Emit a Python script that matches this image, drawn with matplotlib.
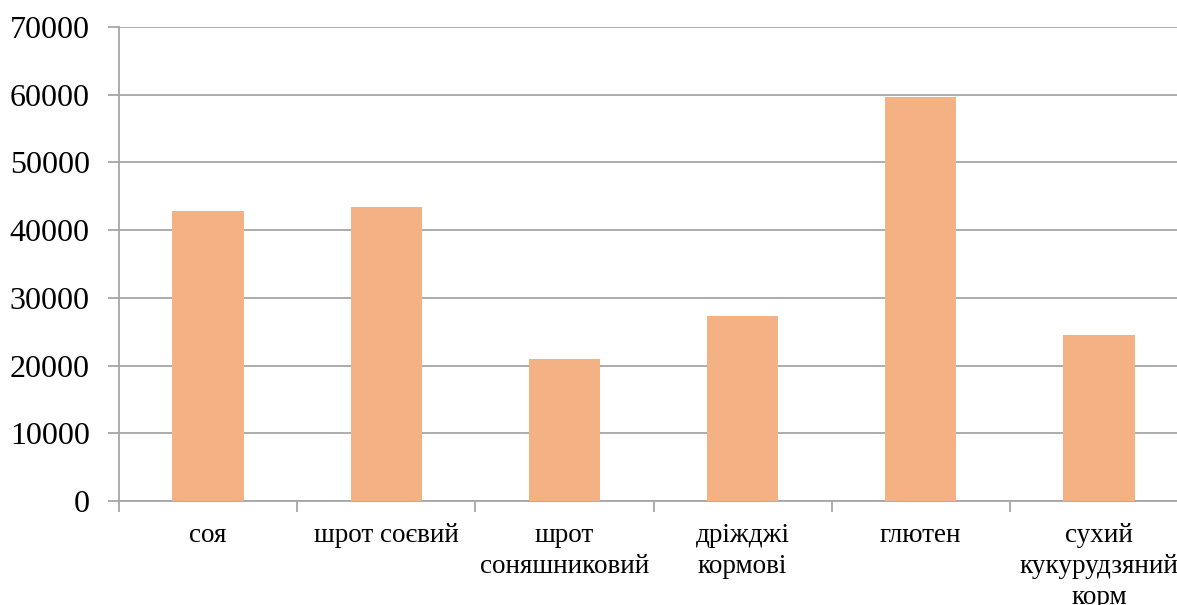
import matplotlib.pyplot as plt
import numpy as np

# categories and values
categories = ["соя", "шрот соєвий", "шрот\nсоняшниковий", "дріжджі\nкормові",
              "глютен", "сухий\nкукурудзяний\nкорм"]
values = [42900, 43450, 21000, 27250, 59650, 24450]
yticks = [0, 10000, 20000, 30000, 40000, 50000, 60000, 70000]

plt.rcParams['font.family'] = ['Liberation Serif', 'DejaVu Serif']

fig = plt.figure(figsize=(11.77, 6.05), dpi=100)
ax = fig.add_axes([119 / 1177, 104 / 605, 1069 / 1177, 474 / 605])

x = np.arange(len(categories))
ax.bar(x, values, width=0.4, color='#F4B183', zorder=3)

ax.set_xlim(-0.5, len(categories) - 0.5)
ax.set_ylim(0, 70000)
ax.set_yticks(yticks)
ax.set_yticklabels([str(v) for v in yticks], fontsize=23)
ax.yaxis.grid(True, color='#A6A6A6', linewidth=1.3, zorder=0)

# category labels centred, tick marks at the boundaries
ax.set_xticks(x)
ax.set_xticklabels(categories, fontsize=19.5, linespacing=1.3)
ax.tick_params(axis='x', which='major', length=0, pad=16)
ax.set_xticks(np.arange(-0.5, len(categories)), minor=True)
ax.tick_params(axis='x', which='minor', length=8, color='#A6A6A6', width=1.3)
ax.tick_params(axis='y', length=8, color='#A6A6A6', width=1.3, pad=13)

for side in ['top', 'right']:
    ax.spines[side].set_visible(False)
for side in ['left', 'bottom']:
    ax.spines[side].set_color('#A6A6A6')
    ax.spines[side].set_linewidth(1.3)

fig.savefig('out.png', dpi=100)
